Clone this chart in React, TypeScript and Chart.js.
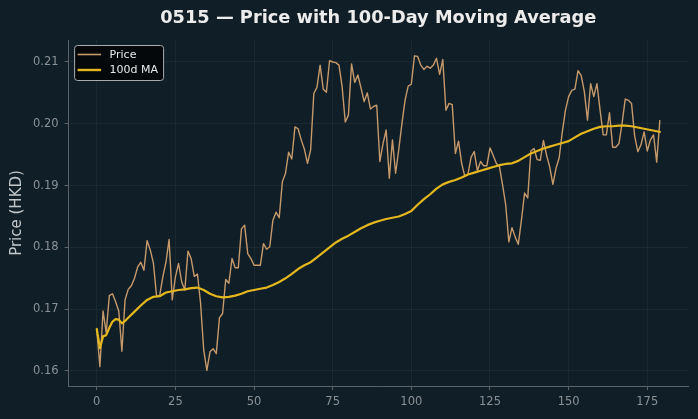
import React, { useEffect, useRef } from "react";
import { Chart, registerables } from "chart.js";

Chart.register(...registerables);

// ---- data ----
const priceValues = [
  0.1668, 0.1607, 0.1697, 0.1662, 0.1722, 0.1725, 0.1712, 0.1697, 0.1632, 0.1715,
  0.1732, 0.1738, 0.1750, 0.1768, 0.1776, 0.1763, 0.1811, 0.1796, 0.1775, 0.1722,
  0.1722, 0.1752, 0.1776, 0.1813, 0.1715, 0.1752, 0.1774, 0.1744, 0.1731, 0.1794,
  0.1782, 0.1753, 0.1757, 0.1710, 0.1634, 0.1601, 0.1631, 0.1636, 0.1628, 0.1686,
  0.1693, 0.1748, 0.1742, 0.1782, 0.1767, 0.1767, 0.1830, 0.1836, 0.1790, 0.1782,
  0.1771, 0.1771, 0.1771, 0.1806, 0.1797, 0.1801, 0.1844, 0.1857, 0.1848, 0.1906,
  0.1920, 0.1954, 0.1943, 0.1995, 0.1992, 0.1974, 0.1959, 0.1936, 0.1958, 0.2049,
  0.2059, 0.2095, 0.2056, 0.2051, 0.2102, 0.2100, 0.2099, 0.2095, 0.2060, 0.2003,
  0.2014, 0.2097, 0.2067, 0.2079, 0.2058, 0.2036, 0.2050, 0.2024, 0.2028, 0.2030,
  0.1939, 0.1968, 0.1990, 0.1912, 0.1974, 0.1920, 0.1958, 0.2000, 0.2038, 0.2061,
  0.2064, 0.2110, 0.2109, 0.2095, 0.2088, 0.2093, 0.2090, 0.2095, 0.2106, 0.2080,
  0.2104, 0.2022, 0.2033, 0.2031, 0.1952, 0.1972, 0.1936, 0.1915, 0.1918, 0.1946,
  0.1955, 0.1924, 0.1939, 0.1932, 0.1932, 0.1961, 0.1949, 0.1936, 0.1931, 0.1901,
  0.1869, 0.1809, 0.1832, 0.1817, 0.1805, 0.1844, 0.1888, 0.1880, 0.1956, 0.1960,
  0.1942, 0.1941, 0.1973, 0.1949, 0.1930, 0.1902, 0.1928, 0.1945, 0.1987, 0.2022,
  0.2044, 0.2054, 0.2056, 0.2086, 0.2078, 0.2052, 0.2006, 0.2065, 0.2044, 0.2065,
  0.2022, 0.1982, 0.1982, 0.2018, 0.1962, 0.1962, 0.1968, 0.2001, 0.2040, 0.2038,
  0.2033, 0.1980, 0.1955, 0.1966, 0.1987, 0.1956, 0.1974, 0.1982, 0.1938, 0.2006,
];

const maIndex = [
  0, 1, 2, 3, 4, 5, 6, 7, 8, 9, 10, 12, 14, 16, 18, 20, 22, 24, 26, 28,
  30, 32, 34, 36, 38, 40, 42, 44, 46, 48, 50, 52, 54, 56, 58, 60, 62, 64, 66, 68,
  70, 72, 74, 76, 78, 80, 82, 84, 86, 88, 90, 92, 94, 96, 98, 100, 102, 104, 106, 108,
  110, 112, 114, 116, 118, 120, 122, 124, 126, 128, 130, 132, 134, 136, 138, 140, 142, 144, 146, 148,
  150, 152, 154, 156, 158, 160, 162, 164, 166, 168, 170, 172, 174, 176, 178, 179,
];
const maValues = [
  0.1668, 0.1637, 0.1656, 0.1658, 0.1670, 0.1680, 0.1684, 0.1683, 0.1677, 0.1681, 0.1686, 0.1696, 0.1706, 0.1715, 0.1720, 0.1721, 0.1727, 0.1729, 0.1731, 0.1732,
  0.1734, 0.1735, 0.1731, 0.1725, 0.1721, 0.1719, 0.1720, 0.1722, 0.1725, 0.1729, 0.1731, 0.1733, 0.1735, 0.1739, 0.1744, 0.1750, 0.1757, 0.1765, 0.1771, 0.1776,
  0.1784, 0.1792, 0.1800, 0.1808, 0.1814, 0.1819, 0.1825, 0.1831, 0.1836, 0.1840, 0.1843, 0.1846, 0.1848, 0.1850, 0.1854, 0.1859, 0.1869, 0.1878, 0.1886, 0.1895,
  0.1902, 0.1906, 0.1909, 0.1913, 0.1918, 0.1921, 0.1924, 0.1927, 0.1930, 0.1933, 0.1935, 0.1936, 0.1940, 0.1946, 0.1952, 0.1956, 0.1960, 0.1963, 0.1966, 0.1969,
  0.1972, 0.1978, 0.1984, 0.1988, 0.1992, 0.1995, 0.1996, 0.1996, 0.1997, 0.1997, 0.1996, 0.1994, 0.1992, 0.1990, 0.1988, 0.1987,
];

const xTicks = [0, 25, 50, 75, 100, 125, 150, 175];
const yTicks = [0.16, 0.17, 0.18, 0.19, 0.2, 0.21];
const seriesNames = ["Price", "100d MA"];
const chartTitle = "0515 \u2014 Price with 100-Day Moving Average";
const yTitle = "Price (HKD)";

// ---- style ----
const W = 698;
const H = 419;
const BG = "#101f27";
const PRICE_COLOR = "#c6996b";
const MA_COLOR = "#e3b71d";
const TICK_COLOR = "#8a9196";
const AXIS_COLOR = "#5b6368";
const GRID_COLOR = "rgba(255,255,255,0.045)";
const FONT = "'DejaVu Sans', sans-serif";

const decorPlugin = {
  id: "decor",
  beforeDraw(chart: any) {
    const ctx = chart.ctx;
    ctx.save();
    ctx.fillStyle = BG;
    ctx.fillRect(0, 0, chart.width, chart.height);
    ctx.restore();
  },
  afterDraw(chart: any) {
    const ctx = chart.ctx;
    const area = chart.chartArea;
    ctx.save();
    // title
    ctx.fillStyle = "#ececec";
    ctx.font = `bold 17.8px ${FONT}`;
    ctx.textAlign = "center";
    ctx.textBaseline = "middle";
    ctx.fillText(chartTitle, (area.left + area.right) / 2, 18.5);

    // y title
    ctx.save();
    ctx.translate(17, (area.top + area.bottom) / 2);
    ctx.rotate(-Math.PI / 2);
    ctx.fillStyle = "#c3c8cb";
    ctx.font = `15px ${FONT}`;
    ctx.textAlign = "center";
    ctx.textBaseline = "middle";
    ctx.fillText(yTitle, 0, 0);
    ctx.restore();

    // legend
    const lx = area.left + 6;
    const ly = area.top + 5.5;
    const lw = 89;
    const lh = 35;
    ctx.beginPath();
    const r = 3;
    ctx.moveTo(lx + r, ly);
    ctx.lineTo(lx + lw - r, ly);
    ctx.quadraticCurveTo(lx + lw, ly, lx + lw, ly + r);
    ctx.lineTo(lx + lw, ly + lh - r);
    ctx.quadraticCurveTo(lx + lw, ly + lh, lx + lw - r, ly + lh);
    ctx.lineTo(lx + r, ly + lh);
    ctx.quadraticCurveTo(lx, ly + lh, lx, ly + lh - r);
    ctx.lineTo(lx, ly + r);
    ctx.quadraticCurveTo(lx, ly, lx + r, ly);
    ctx.closePath();
    ctx.fillStyle = "rgba(3,6,8,0.92)";
    ctx.fill();
    ctx.strokeStyle = "#a9adb0";
    ctx.lineWidth = 1;
    ctx.stroke();

    const colors = [PRICE_COLOR, MA_COLOR];
    const widths = [1.6, 2.4];
    seriesNames.forEach((name, k) => {
      const yy = ly + 9 + k * 15.5;
      ctx.beginPath();
      ctx.moveTo(lx + 3, yy);
      ctx.lineTo(lx + 26.5, yy);
      ctx.strokeStyle = colors[k];
      ctx.lineWidth = widths[k];
      ctx.stroke();
      ctx.fillStyle = "#e8e8e8";
      ctx.font = `11px ${FONT}`;
      ctx.textAlign = "left";
      ctx.textBaseline = "middle";
      ctx.fillText(name, lx + 35, yy + 0.5);
    });
    ctx.restore();
  },
};

export default function App() {
  const canvasRef = useRef<HTMLCanvasElement | null>(null);

  useEffect(() => {
    document.body.style.margin = "0";
    document.body.style.background = BG;
    const canvas = canvasRef.current;
    if (!canvas) return;

    const priceData = priceValues.map((v, i) => ({ x: i, y: v }));
    const maData = maIndex.map((x, k) => ({ x, y: maValues[k] }));

    const chart = new Chart(canvas, {
      type: "line",
      data: {
        datasets: [
          {
            label: seriesNames[0],
            data: priceData,
            borderColor: PRICE_COLOR,
            borderWidth: 1.4,
            pointRadius: 0,
            tension: 0,
            order: 2,
            borderJoinStyle: "round",
          },
          {
            label: seriesNames[1],
            data: maData,
            borderColor: MA_COLOR,
            borderWidth: 2.2,
            pointRadius: 0,
            tension: 0,
            order: 1,
            borderJoinStyle: "round",
            borderCapStyle: "round",
          },
        ],
      },
      options: {
        animation: false,
        responsive: false,
        devicePixelRatio: 1,
        events: [],
        layout: { padding: { left: 0, right: 10, top: 40, bottom: 0 } },
        plugins: {
          legend: { display: false },
          tooltip: { enabled: false },
          title: { display: false },
        },
        scales: {
          x: {
            type: "linear",
            min: -8.95,
            max: 187.95,
            afterBuildTicks: (s: any) => {
              s.ticks = xTicks.map((v) => ({ value: v }));
            },
            afterFit: (s: any) => {
              s.height = 33;
            },
            ticks: {
              color: TICK_COLOR,
              font: { family: FONT, size: 11.5 },
              padding: 5,
              maxRotation: 0,
              autoSkip: false,
              callback: (v: any) => String(v),
            },
            grid: {
              color: GRID_COLOR,
              tickColor: AXIS_COLOR,
              tickLength: 4,
              drawTicks: true,
            },
            border: { display: true, color: AXIS_COLOR, width: 1 },
          },
          y: {
            type: "linear",
            min: 0.15757,
            max: 0.21356,
            afterBuildTicks: (s: any) => {
              s.ticks = yTicks.map((v) => ({ value: v }));
            },
            afterFit: (s: any) => {
              s.width = 68.6;
            },
            ticks: {
              color: TICK_COLOR,
              font: { family: FONT, size: 11.5 },
              padding: 6,
              autoSkip: false,
              callback: (v: any) => Number(v).toFixed(2),
            },
            grid: {
              color: GRID_COLOR,
              tickColor: AXIS_COLOR,
              tickLength: 4,
              drawTicks: true,
            },
            border: { display: true, color: AXIS_COLOR, width: 1 },
          },
        },
      },
      plugins: [decorPlugin],
    } as any);

    return () => chart.destroy();
  }, []);

  return (
    <div style={{ position: "absolute", left: 0, top: 0, width: W, height: H, background: BG }}>
      <canvas ref={canvasRef} width={W} height={H} style={{ display: "block", width: W, height: H }} />
    </div>
  );
}
